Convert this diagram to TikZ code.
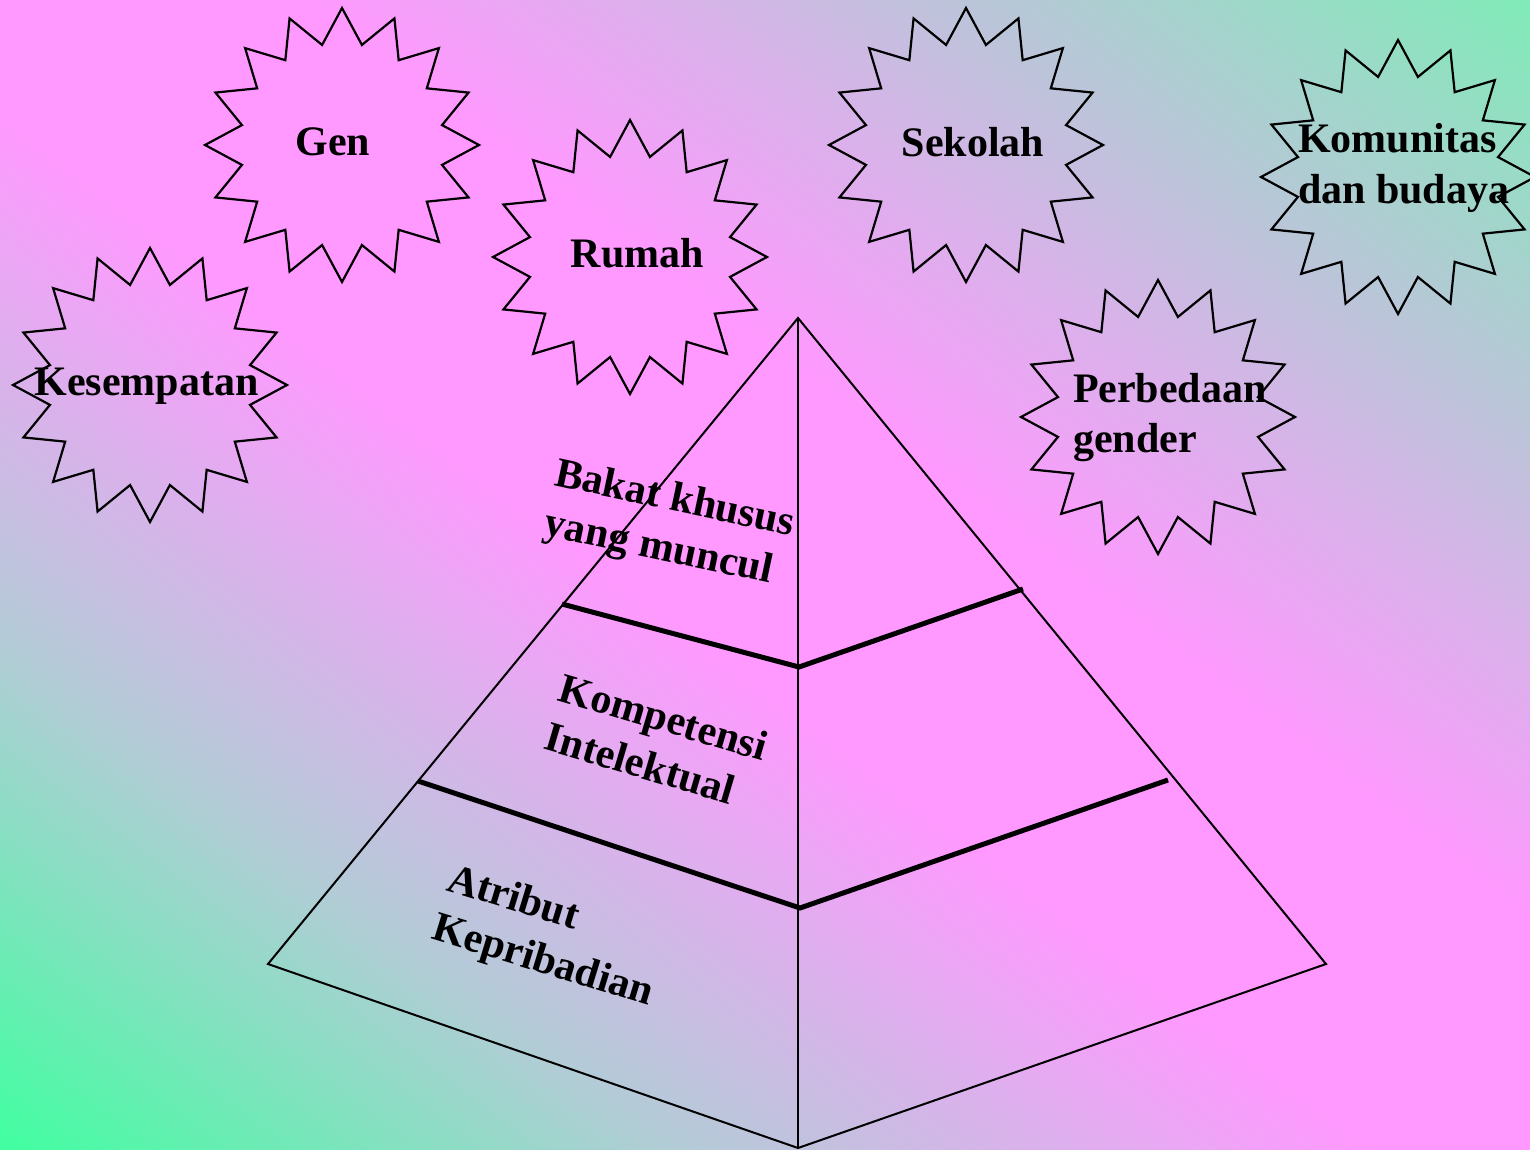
\documentclass[tikz,border=0pt]{standalone}
\usepackage{fontspec}
\setmainfont{Liberation Serif}
\definecolor{gA}{HTML}{40FFA0}
\definecolor{pk}{HTML}{FF99FF}
\definecolor{gB}{HTML}{80EBB8}
\definecolor{mixA}{HTML}{B2CCD6}
\pgfdeclarehorizontalshading{bgshade}{100bp}{color(0bp)=(gA); color(25bp)=(gA); color(36bp)=(mixA); color(47.5bp)=(pk); color(55bp)=(pk); color(75bp)=(gB); color(100bp)=(gB)}
\tikzset{
  lbl/.style={font=\fontsize{42}{50}\selectfont\bfseries, inner sep=0pt, outer sep=0pt, text=black},
  thinedge/.style={line width=2pt, line join=miter},
  boldedge/.style={line width=5pt, line join=miter},
  burst/.pic={\draw[line width=2.2pt, line join=miter] plot[samples at={0,...,31}] ({(119.5+17.5*cos(\x*180))*cos(\x*11.25)}, {(119.5+17.5*cos(\x*180))*sin(\x*11.25)}) -- cycle;}
}
\begin{document}
\begin{tikzpicture}[x=1pt, y=-1pt]
\useasboundingbox (0,0) rectangle (1530,1150);
% background: diagonal gradient, iso-lines parallel to the top-left/bottom-right diagonal
\begin{scope}[transform canvas={cm={15.3,11.5,15.3,-11.5,(-765pt,-575pt)}}]
  \shade[shading=bgshade, shading angle=0] (0pt,0pt) rectangle (100pt,100pt);
\end{scope}

% stars
\pic (sGen) at (342,145) {burst};
\pic (sKes) at (150,385) {burst};
\pic (sRum) at (630,257) {burst};
\pic (sSek) at (966,145) {burst};
\pic (sKom) at (1398,177) {burst};
\pic (sPer) at (1158,417) {burst};

% pyramid
\coordinate (apex) at (798,318);
\coordinate (bl) at (268,964);
\coordinate (br) at (1326,964);
\coordinate (bot) at (798,1148);
\coordinate (u1) at (562,604);
\coordinate (u2) at (799,667);
\coordinate (u3) at (1023,589);
\coordinate (l1) at (418,781);
\coordinate (l2) at (800,908);
\coordinate (l3) at (1168,780);
\draw[thinedge] (apex) -- (bl) -- (bot) -- (br) -- cycle;
\draw[thinedge] (apex) -- (bot);
\draw[boldedge] (u1) -- (u2) -- (u3);
\draw[boldedge] (l1) -- (l2) -- (l3);

% star labels
\node[lbl, anchor=base] (tGen) at (333,156) {Gen};
\node[lbl, anchor=base] (tKes) at (146.5,395) {Kesempatan};
\node[lbl, anchor=base] (tRum) at (637.5,267) {Rumah};
\node[lbl, anchor=base] (tSek) at (973,157) {Sekolah};
\node[lbl, anchor=base west] (tKom1) at (1298,153) {Komunitas};
\node[lbl, anchor=base west] (tKom2) at (1298,204) {dan budaya};
\node[lbl, anchor=base west] (tPer1) at (1073,402) {Perbedaan};
\node[lbl, anchor=base west] (tPer2) at (1073,452) {gender};

% pyramid labels
\node[lbl, anchor=base west, rotate=-12] (tBak1) at (553,485) {Bakat khusus};
\node[lbl, anchor=base west, rotate=-12] (tBak2) at (542.4,534.9) {yang muncul};
\node[lbl, anchor=base west, rotate=-16.5] (tKmp1) at (556.7,700) {Kompetensi};
\node[lbl, anchor=base west, rotate=-16.5] (tKmp2) at (542.2,748.9) {Intelektual};
\node[lbl, anchor=base west, rotate=-17] (tAtr1) at (445,890) {Atribut};
\node[lbl, anchor=base west, rotate=-17] (tAtr2) at (430.1,938.8) {Kepribadian};
\end{tikzpicture}
\end{document}
